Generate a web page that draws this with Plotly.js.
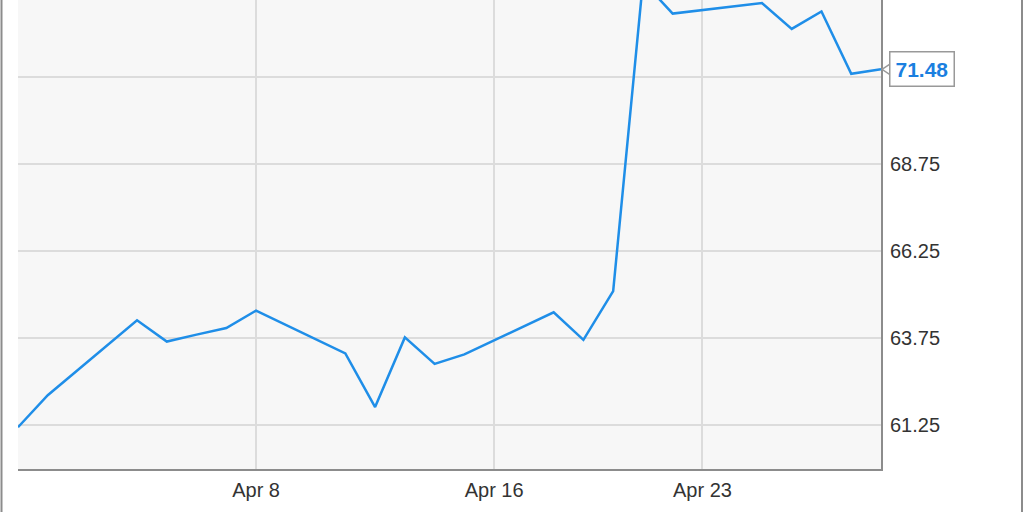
<!DOCTYPE html>
<html>
<head>
<meta charset="utf-8">
<script src="https://cdn.plot.ly/plotly-3.0.1.min.js"></script>
<style>
  html, body { margin: 0; padding: 0; background: #fff; }
  #chart { width: 1024px; height: 512px; }
</style>
</head>
<body>
<div id="chart"></div>
<script>
// ----------------------------- Data ------------------------------------------
var dates = [
  "2016-03-31", "2016-04-01", "2016-04-04", "2016-04-05", "2016-04-06",
  "2016-04-07", "2016-04-08", "2016-04-11", "2016-04-12", "2016-04-13",
  "2016-04-14", "2016-04-15", "2016-04-18", "2016-04-19", "2016-04-20",
  "2016-04-21", "2016-04-22", "2016-04-25", "2016-04-26", "2016-04-27",
  "2016-04-28", "2016-04-29"
];
var prices = [
  61.20, 62.12, 64.27, 63.66, 63.86,
  64.05, 64.55, 63.32, 61.78, 63.78,
  63.02, 63.29, 64.50, 63.71, 65.11,
  74.00, 73.08, 73.38, 72.64, 73.14,
  71.35, 71.48
];
var xTicks = ["2016-04-08", "2016-04-16", "2016-04-23"];
var xTickText = ["Apr 8", "Apr 16", "Apr 23"];
var yTicks = [61.25, 63.75, 66.25, 68.75, 71.25];
// the 71.25 label sits under the last-price box, so it is left blank
var yTickText = ["61.25", "63.75", "66.25", "68.75", ""];
// =============================================================================

var lineBlue = "#1f8ee8";
var lastPrice = prices[prices.length - 1];

var data = [{
  x: dates,
  y: prices,
  mode: "lines",
  line: { color: lineBlue, width: 2.5 },
  showlegend: false,
  hoverinfo: "x+y"
}];

var layout = {
  width: 1024,
  height: 512,
  margin: { l: 18, r: 143, t: 0, b: 43, pad: 0 },
  paper_bgcolor: "#ffffff",
  plot_bgcolor: "#f7f7f7",
  font: { family: "Liberation Sans, Arial, sans-serif", size: 20, color: "#333" },
  xaxis: {
    type: "date",
    range: ["2016-03-31", "2016-04-29"],
    tickvals: xTicks,
    ticktext: xTickText,
    showgrid: true,
    gridcolor: "#dcdcdc",
    gridwidth: 2,
    zeroline: false,
    showline: true,
    linecolor: "#8c8c8c",
    linewidth: 2,
    mirror: true,
    ticks: "",
    ticklabelstandoff: 2
  },
  yaxis: {
    side: "right",
    range: [60.0, 73.47],
    tickvals: yTicks,
    ticktext: yTickText,
    showgrid: true,
    gridcolor: "#dcdcdc",
    gridwidth: 2,
    zeroline: false,
    showline: true,
    linecolor: "#8c8c8c",
    linewidth: 2,
    ticks: "",
    ticklabelstandoff: 3
  },
  shapes: [
    // outer frame edges
    { type: "line", xref: "paper", yref: "paper", xsizemode: "pixel", xanchor: 0,
      x0: -16.5, x1: -16.5, y0: -0.2, y1: 1.1, line: { color: "#8c8c8c", width: 2 } },
    { type: "line", xref: "paper", yref: "paper", xsizemode: "pixel", xanchor: 1,
      x0: 141, x1: 141, y0: -0.2, y1: 1.1, line: { color: "#8c8c8c", width: 2 } },
    // notch of the last-price label
    { type: "path", xref: "paper", yref: "y", xsizemode: "pixel", ysizemode: "pixel",
      xanchor: 1, yanchor: lastPrice,
      path: "M1,0 L10,6 L10,-6 Z",
      fillcolor: "#ffffff", line: { color: "#999999", width: 1.5 } }
  ],
  annotations: [{
    xref: "paper", yref: "y",
    x: 1, y: lastPrice,
    xanchor: "left", yanchor: "middle",
    xshift: 8,
    text: "<b>" + lastPrice.toFixed(2) + "</b>",
    showarrow: false,
    font: { family: "Liberation Sans, Arial, sans-serif", size: 21, color: "#1a7fe0" },
    bgcolor: "#ffffff",
    bordercolor: "#999999",
    borderwidth: 1.5,
    borderpad: 5
  }]
};

Plotly.newPlot("chart", data, layout, { displayModeBar: false, staticPlot: true });
</script>
</body>
</html>
